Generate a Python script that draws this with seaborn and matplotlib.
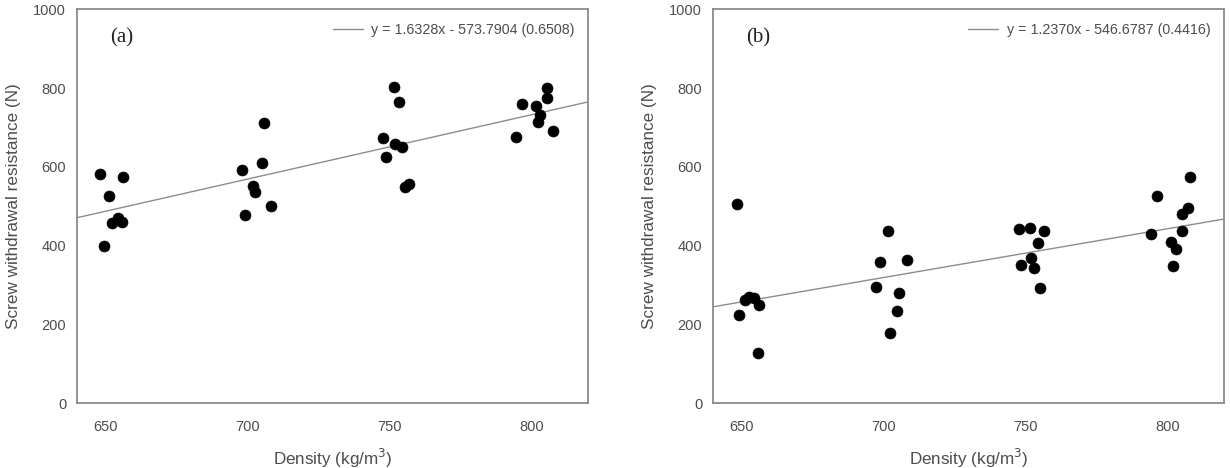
import numpy as np
import pandas as pd
import matplotlib
matplotlib.use("Agg")
import matplotlib.pyplot as plt
import seaborn as sns

# ---- data ----
density_a = [648.1, 651.2, 656.1, 652.3, 654.2, 655.8, 649.4,
             697.9, 699.0, 701.8, 702.5, 704.9, 705.9, 708.4,
             751.5, 753.2, 747.8, 752.0, 754.2, 748.8, 755.5, 756.7,
             796.6, 801.7, 805.4, 805.6, 803.1, 802.3, 794.5, 807.5]
resist_a = [581, 525, 574, 457, 470, 461, 399,
            591, 477, 552, 536, 611, 712, 501,
            804, 764, 674, 657, 650, 624, 550, 557,
            760, 755, 800, 774, 732, 715, 675, 692]

density_b = [648.2, 649.2, 651.2, 652.7, 654.4, 655.8, 656.2,
             697.5, 698.7, 701.5, 702.2, 704.6, 705.5, 708.2,
             747.6, 751.5, 756.4, 754.4, 752.1, 748.6, 753.0, 755.3,
             794.4, 796.5, 801.4, 803.0, 802.0, 805.1, 805.3, 807.4, 808.1]
resist_b = [505, 224, 262, 271, 267, 127, 249,
            296, 358, 438, 178, 235, 281, 364,
            442, 444, 437, 406, 368, 351, 344, 292,
            430, 527, 409, 392, 348, 437, 480, 496, 575]

slopes = [1.6328, 1.2370]
intercepts = [-573.7904, -546.6787]
r2 = [0.6508, 0.4416]
panel_tags = ["(a)", "(b)"]

x_ticks = [650, 700, 750, 800]
y_ticks = [0, 200, 400, 600, 800, 1000]

sns.set_theme(style="white")
plt.rcParams["font.family"] = ["Liberation Sans", "DejaVu Sans"]

W, H = 1230, 468
fig = plt.figure(figsize=(W / 100, H / 100), dpi=100)
axes_px = [(77.3, 588.3), (713.3, 1224.0)]
top_px, bot_px = 9.3, 403.3

spine_col = "#8a8a8a"
text_col = "#4d4d4d"

datasets = [(density_a, resist_a), (density_b, resist_b)]
for i, (dx, dy) in enumerate(datasets):
    l, r = axes_px[i]
    ax = fig.add_axes([l / W, 1 - bot_px / H, (r - l) / W, (bot_px - top_px) / H])
    df = pd.DataFrame({"Density": dx, "Resistance": dy})
    sns.scatterplot(data=df, x="Density", y="Resistance", ax=ax, color="black",
                    s=62, edgecolor="black", linewidth=0.5, zorder=3)
    xs = np.array([640, 820])
    ax.plot(xs, slopes[i] * xs + intercepts[i], color="#8c8c8c", lw=1.0,
            label=f"y = {slopes[i]:.4f}x - {abs(intercepts[i]):.4f} ({r2[i]:.4f})",
            zorder=2)
    ax.set_xlim(640, 820)
    ax.set_ylim(0, 1000)
    ax.set_xticks(x_ticks)
    ax.set_yticks(y_ticks)
    for s in ax.spines.values():
        s.set_visible(True)
        s.set_color(spine_col)
        s.set_linewidth(1.3)
    ax.tick_params(axis="both", direction="out", length=4, width=1.0,
                   color=spine_col, labelsize=10.5, labelcolor=text_col, pad=4)
    ax.tick_params(axis="x", pad=8)
    ax.set_xlabel("Density (kg/m$^3$)", fontsize=12.3, color=text_col, labelpad=9)
    ax.set_ylabel("Screw withdrawal resistance (N)", fontsize=12.3, color=text_col,
                  labelpad=9)
    ax.text(0.087, 0.927, panel_tags[i], transform=ax.transAxes,
            fontsize=15, family="Liberation Serif", color="#222222",
            ha="center", va="center")
    leg = ax.legend(loc="upper right", frameon=False, fontsize=10.3,
                    handlelength=2.1, borderaxespad=0.55, handletextpad=0.6,
                    labelcolor=text_col)

fig.savefig("out.png", dpi=100)
